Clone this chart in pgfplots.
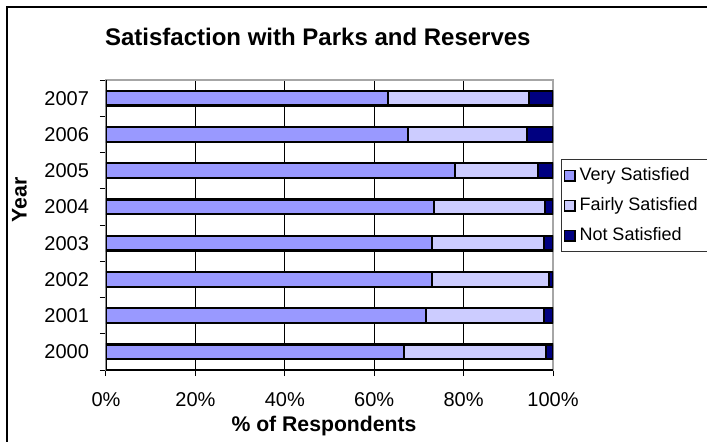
\documentclass[border=0pt]{standalone}
\usepackage{pgfplots}
\usepackage{pgfplotstable}
\pgfplotsset{compat=1.18}
\usepackage{fontspec}
\setmainfont{Liberation Sans}

\definecolor{vs}{HTML}{9999FF}
\definecolor{fs}{HTML}{CCCCFF}
\definecolor{ns}{HTML}{000080}

\pgfplotstableread{
idx year very fairly not
0 2000 66.7 31.7 1.6
1 2001 71.6 26.4 2.0
2 2002 72.9 26.2 0.9
3 2003 72.9 25.1 2.0
4 2004 73.3 24.9 1.8
5 2005 78.0 18.7 3.3
6 2006 67.6 26.5 5.9
7 2007 63.0 31.7 5.3
}\datatable

\begin{document}
\begin{tikzpicture}
\path[use as bounding box] (-53pt,-35.5pt) rectangle (300.5pt,185pt);
\draw[black, line width=0.6pt] (-49.5pt,-40pt) rectangle (305pt,181.5pt);
\begin{axis}[
  at={(0,0)}, anchor=south west,
  scale only axis, width=223.5pt, height=145pt,
  xbar stacked, bar width=7.3pt,
  xmin=0, xmax=100, ymin=-0.5, ymax=7.5,
  xtick={0,20,40,60,80,100},
  xticklabels={0\%,20\%,40\%,60\%,80\%,100\%},
  ytick={-0.5,0.5,1.5,2.5,3.5,4.5,5.5,6.5,7.5},
  yticklabels={},
  extra y ticks={0,1,2,3,4,5,6,7},
  extra y tick labels={2000,2001,2002,2003,2004,2005,2006,2007},
  extra y tick style={major tick length=0pt, yticklabel style={anchor=east, xshift=-5pt}},
  tick pos=left, tick align=outside,
  major tick length=3pt,
  tick style={black, line width=0.5pt},
  xmajorgrids, major grid style={black, line width=0.5pt},
  axis line style={draw=gray!70, line width=0.8pt},
  tick label style={font=\fontsize{10}{12}\selectfont},
  xticklabel style={anchor=base, yshift=-15.4pt},
  title={Satisfaction with Parks and Reserves},
  title style={at={(axis description cs:0.474,1.0793)}, anchor=base, font=\fontsize{12}{14}\selectfont\bfseries},
  xlabel={\% of Respondents},
  xlabel style={at={(axis description cs:0.4877,-0.2128)}, anchor=base, font=\fontsize{10.6}{12}\selectfont\bfseries},
  ylabel={Year},
  ylabel style={at={(axis description cs:-0.1774,0.586)}, anchor=base, rotate=0, font=\fontsize{10.6}{12}\selectfont\bfseries},
  legend image code/.code={\draw[#1, line width=0.8pt] (0pt,-2.6pt) rectangle (5.2pt,2.6pt);},
  legend style={at={(axis description cs:1.0179,0.7276)}, anchor=north west,
    draw=black!80, line width=0.5pt, font=\fontsize{9}{11}\selectfont,
    row sep=3pt, inner xsep=1pt, inner ysep=2pt},
  legend cell align=left,
]
\addplot[fill=vs, draw=black, line width=1.1pt] table[x=very, y=idx] {\datatable};
\addplot[fill=fs, draw=black, line width=1.1pt] table[x=fairly, y=idx] {\datatable};
\addplot[fill=ns, draw=black, line width=1.1pt] table[x=not, y=idx] {\datatable};
\legend{\makebox[68pt][l]{Very Satisfied}, \makebox[68pt][l]{Fairly Satisfied}, \makebox[68pt][l]{Not Satisfied}}
\draw[black, line width=0.8pt] (rel axis cs:0,1) -- (rel axis cs:0,0) -- (rel axis cs:1,0);
\end{axis}
\end{tikzpicture}
\end{document}
